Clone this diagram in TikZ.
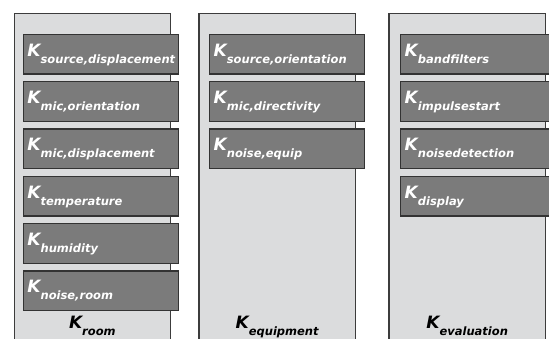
\documentclass[tikz,border=0pt]{standalone}
\usepackage{xcolor}
\usepackage{fontspec}
\setsansfont{DejaVu Sans}
\usepackage{tikz}
\usetikzlibrary{positioning}

\definecolor{colfill}{HTML}{DBDCDD}
\definecolor{coledge}{HTML}{3C3C3C}
\definecolor{boxfill}{HTML}{7B7B7B}
\definecolor{boxedge}{HTML}{333333}

\newcommand{\kname}[1]{{\fontsize{17}{17}\selectfont K}\raisebox{-7pt}{\fontsize{11.5}{11.5}\selectfont #1}}

\begin{document}
\begin{tikzpicture}[x=1pt, y=1pt, node distance=6.2pt,
        column/.style={rectangle, draw=coledge, fill=colfill, line width=1.2pt, minimum width=156.5pt, minimum height=360pt, inner sep=0pt, anchor=north west},
        kbox/.style={rectangle, draw=boxedge, fill=boxfill, line width=1.4pt, minimum width=155pt, minimum height=39.7pt, text width=147pt, inner xsep=4pt, inner ysep=3pt, text height=12pt, text depth=8pt, align=left, text=white, font=\sffamily\bfseries\itshape},
        clabel/.style={font=\sffamily\bfseries\itshape, text=black, anchor=base}]
        \useasboundingbox (0,0) rectangle (549,338);
        \clip (0,0) rectangle (549,338);

        % columns
        \node (room) [column] at (13.5,324.7) {};
        \node (equipment) [column] at (198.3,324.7) {};
        \node (evaluation) [column] at (388.3,324.7) {};

        % room
        \node (srcdisp) [kbox, anchor=north west] at (22.7,304.4) {\kname{source,displacement}};
        \node (micorient) [kbox, below=of srcdisp] {\kname{mic,orientation}};
        \node (micdisp) [kbox, below=of micorient] {\kname{mic,displacement}};
        \node (temp) [kbox, below=of micdisp] {\kname{temperature}};
        \node (humid) [kbox, below=of temp] {\kname{humidity}};
        \node (noiseroom) [kbox, below=of humid] {\kname{noise,room}};

        % equipment
        \node (srcorient) [kbox, anchor=north west] at (209,304.4) {\kname{source,orientation}};
        \node (micdir) [kbox, below=of srcorient] {\kname{mic,directivity}};
        \node (noiseequip) [kbox, below=of micdir] {\kname{noise,equip}};

        % evaluation
        \node (bandfilt) [kbox, anchor=north west] at (400,304.4) {\kname{bandfilters}};
        \node (impstart) [kbox, below=of bandfilt] {\kname{impulsestart}};
        \node (noisedet) [kbox, below=of impstart] {\kname{noisedetection}};
        \node (display) [kbox, below=of noisedet] {\kname{display}};

        % column labels
        \node (roomlabel) [clabel] at (room.north |- 0,10) {\kname{room}};
        \node (equiplabel) [clabel] at (equipment.north |- 0,10) {\kname{equipment}};
        \node (evallabel) [clabel] at (evaluation.north |- 0,10) {\kname{evaluation}};
    \end{tikzpicture}
\end{document}
